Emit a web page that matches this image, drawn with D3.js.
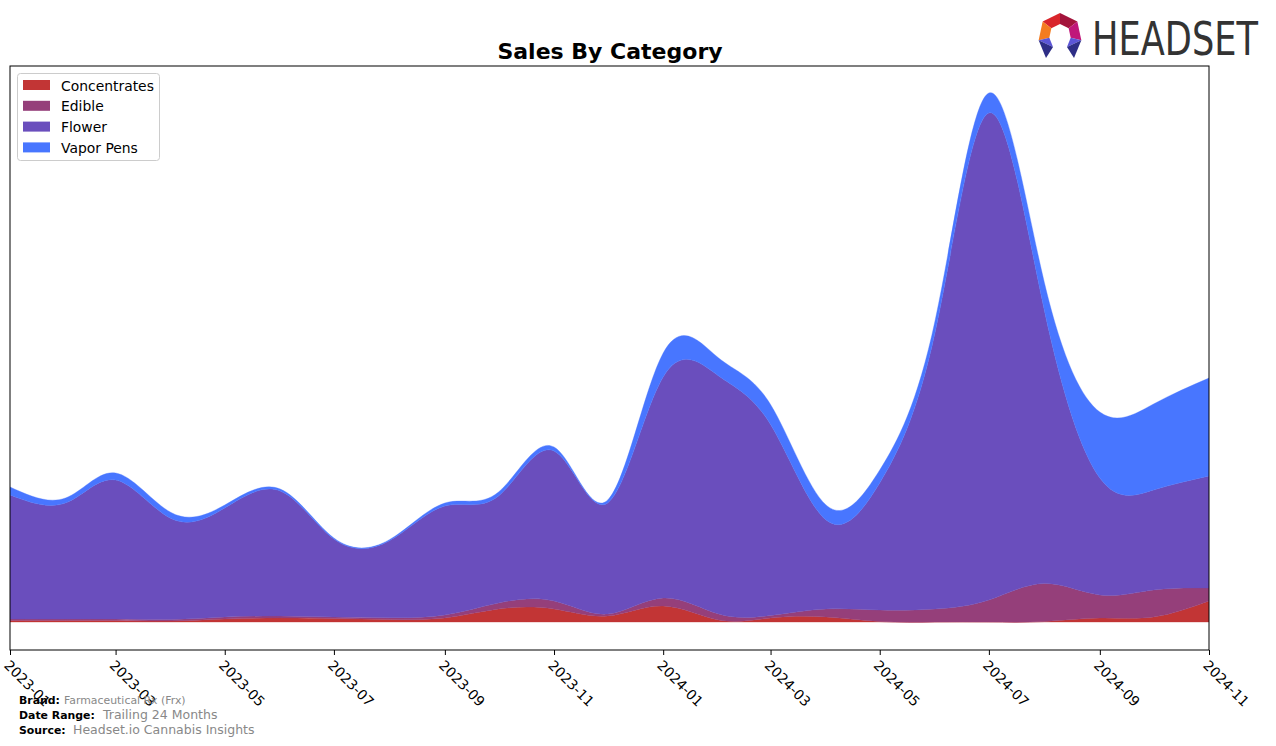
<!DOCTYPE html>
<html>
<head>
<meta charset="utf-8">
<script src="https://cdn.jsdelivr.net/npm/d3@7"></script>
<style>
  html, body { margin: 0; padding: 0; background: #ffffff; }
  svg { display: block; }
  text { font-family: "DejaVu Sans", sans-serif; }
</style>
</head>
<body>
<svg id="chart" width="1276" height="746"></svg>
<script>
// ---- data ----
const months = ["2023-01","2023-02","2023-03","2023-04","2023-05","2023-06","2023-07","2023-08","2023-09","2023-10","2023-11","2023-12",
                "2024-01","2024-02","2024-03","2024-04","2024-05","2024-06","2024-07","2024-08","2024-09","2024-10","2024-11"];
const categories = ["Concentrates", "Edible", "Flower", "Vapor Pens"];
const concentrates = [1.5, 1.5, 1.5, 1, 3, 4, 3.5, 2.5, 4, 13, 13, 6, 16, 2, 4, 5, 0.5, 0, 0, 0.5, 4, 5, 21];
const edible       = [1.5, 1.5, 1.5, 1.5, 2, 2, 1.5, 1.8, 3, 6, 8, 2, 8, 6, 2.5, 8, 11.5, 13, 22, 38, 23, 27, 13];
const flower       = [124, 116, 139, 101, 109, 125, 78, 77, 109, 107, 150, 111, 221, 238, 191, 89, 127, 277, 487, 273, 117, 100, 112];
const vaporPens    = [8, 5, 7, 6, 3, 2, 1, 1, 3, 4, 4, 3, 24, 18, 20, 15, 13, 12, 20, 28, 66, 86, 98];
const colors = ["#c23535", "#953f7a", "#6a4ebd", "#4876ff"];
const xTickLabels = ["2023-01","2023-03","2023-05","2023-07","2023-09","2023-11","2024-01","2024-03","2024-05","2024-07","2024-09","2024-11"];

(function () {
// ---- layout ----
const svg = d3.select("#chart");
const pLeft = 10, pRight = 1209, pTop = 66, pBottom = 650;
const parse = d3.utcParse("%Y-%m");
const rows = months.map((m, i) => ({
  date: parse(m),
  "Concentrates": concentrates[i],
  "Edible": edible[i],
  "Flower": flower[i],
  "Vapor Pens": vaporPens[i]
}));

const x = d3.scaleUtc().domain([parse(months[0]), parse(months[months.length - 1])]).range([pLeft, pRight]);
const y = d3.scaleLinear().domain([-28, 556]).range([pBottom, pTop]);

const series = d3.stack().keys(categories)(rows);

svg.append("defs").append("clipPath").attr("id", "plotclip")
  .append("rect").attr("x", pLeft).attr("y", pTop).attr("width", pRight - pLeft).attr("height", pBottom - pTop);

const area = d3.area()
  .curve(d3.curveNatural)
  .x(d => x(d.data.date))
  .y0(d => y(d[0]))
  .y1(d => y(d[1]));

const g = svg.append("g").attr("clip-path", "url(#plotclip)");
g.selectAll("path.layer").data(series).join("path")
  .attr("class", "layer")
  .attr("d", area)
  .attr("fill", (d, i) => colors[i])
  .attr("stroke", (d, i) => colors[i])
  .attr("stroke-width", 0.6)
  .attr("stroke-opacity", 0.6);

// frame
svg.append("rect").attr("x", pLeft).attr("y", pTop).attr("width", pRight - pLeft).attr("height", pBottom - pTop)
  .attr("fill", "none").attr("stroke", "#000").attr("stroke-width", 1);

// x axis
const tickDates = xTickLabels.map(parse);
const axis = d3.axisBottom(x).tickValues(tickDates).tickFormat(d3.utcFormat("%Y-%m")).tickSize(5).tickPadding(0);
const ax = svg.append("g").attr("transform", `translate(0,${pBottom})`).call(axis);
ax.select(".domain").remove();
ax.selectAll(".tick line").attr("stroke", "#000");
ax.selectAll(".tick text")
  .attr("font-family", "DejaVu Sans, sans-serif")
  .attr("font-size", 13.9)
  .attr("fill", "#000")
  .attr("text-anchor", "start")
  .attr("dy", null)
  .attr("y", 0)
  .attr("dominant-baseline", "hanging")
  .attr("transform", "translate(0,9) rotate(45)");

// title
svg.append("text").attr("x", 610).attr("y", 59).attr("text-anchor", "middle")
  .attr("font-size", 22).attr("font-weight", "bold").attr("fill", "#000").text("Sales By Category");

// legend
const lg = svg.append("g");
lg.append("rect").attr("x", 17.5).attr("y", 73.5).attr("width", 142).attr("height", 87).attr("rx", 3)
  .attr("fill", "#fff").attr("fill-opacity", 0.8).attr("stroke", "#cccccc");
categories.forEach((c, i) => {
  const yy = 80 + i * 20.8;
  lg.append("rect").attr("x", 23).attr("y", yy).attr("width", 27).attr("height", 10).attr("fill", colors[i]);
  lg.append("text").attr("x", 61).attr("y", yy + 10.5).attr("font-size", 13.9).attr("fill", "#000").text(c);
});

// footer
const foot = [
  {label: "Brand:", value: "Farmaceutical Rx (Frx)", y: 704, vx: 64, vs: 10.9},
  {label: "Date Range:", value: "Trailing 24 Months", y: 719, vx: 103, vs: 12.5},
  {label: "Source:", value: "Headset.io Cannabis Insights", y: 734, vx: 73, vs: 12.5}
];
foot.forEach(f => {
  svg.append("text").attr("x", 19).attr("y", f.y).attr("font-size", 10.9).attr("font-weight", "bold").attr("fill", "#000").text(f.label);
  svg.append("text").attr("x", f.vx).attr("y", f.y).attr("font-size", f.vs).attr("fill", "#888888").text(f.value);
});

// logo
const logo = svg.append("g");
const cx = 1060, cy = 35, R = 22, r = 11;
function pt(a, rad) { const t = a * Math.PI / 180; return [cx + rad * Math.cos(t), cy + rad * Math.sin(t)]; }
const segs = [
  {a0: -90, a1: -38, c: "#a3143c"},
  {a0: -142, a1: -90, c: "#d9252b"},
  {a0: -38, a1: 14, c: "#c0177a"},
  {a0: -194, a1: -142, c: "#f47c20"}
];
const poly = p => p.map(q => q.join(",")).join(" ");
segs.forEach(s => {
  logo.append("polygon").attr("points", poly([pt(s.a0, R), pt(s.a1, R), pt(s.a1, r), pt(s.a0, r)])).attr("fill", s.c);
});
logo.append("polygon").attr("points", poly([pt(166, R), pt(166, r), [cx - 7, cy + 12]])).attr("fill", "#5b55d6");
logo.append("polygon").attr("points", poly([pt(166, R), [cx - 7, cy + 12], [cx - 14, cy + 23]])).attr("fill", "#2e2e86");
logo.append("polygon").attr("points", poly([pt(14, R), pt(14, r), [cx + 7, cy + 12]])).attr("fill", "#5b55d6");
logo.append("polygon").attr("points", poly([pt(14, R), [cx + 7, cy + 12], [cx + 14, cy + 23]])).attr("fill", "#2e2e86");

const lgText = logo.append("g");
const ht = lgText.append("text").attr("x", 0).attr("y", 0)
  .attr("font-family", "Liberation Sans Narrow, Roboto, sans-serif")
  .attr("font-size", 47).attr("fill", "#333333")
  .text("HEADSET");
const natural = ht.node().getComputedTextLength() || 166;
lgText.attr("transform", `translate(1092,55) scale(${166 / natural},1)`);
})();
</script>
</body>
</html>
